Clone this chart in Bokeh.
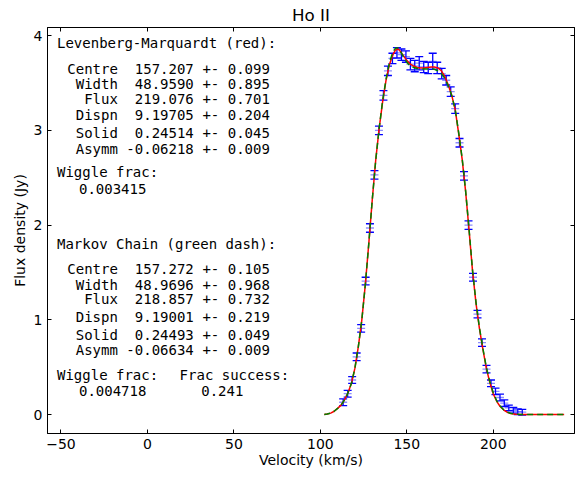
from bokeh.plotting import figure
from bokeh.models import (Range1d, LinearAxis, FixedTicker, Whisker, TeeHead,
                          ColumnDataSource, Label)
from bokeh.embed import file_html
from bokeh.resources import INLINE

# ---- data ----
vel = [113.2, 115.8, 118.4, 121.0, 123.6, 126.2, 128.7, 131.3, 133.9, 136.5,
       139.1, 141.7, 144.3, 146.9, 149.5, 152.1, 154.6, 157.2, 159.8, 162.4,
       165.0, 167.6, 170.2, 172.8, 175.4, 178.0, 180.5, 183.1, 185.7, 188.3,
       190.9, 193.5, 196.1, 198.7, 201.3, 203.9, 206.4, 209.0, 211.6, 214.2, 216.8]
flux = [0.13, 0.22, 0.365, 0.61, 0.91, 1.41, 1.97, 2.53, 3.00, 3.37,
        3.63, 3.76, 3.82, 3.80, 3.78, 3.70, 3.68, 3.71, 3.67, 3.66,
        3.73, 3.66, 3.60, 3.53, 3.41, 3.23, 2.87, 2.52, 2.00, 1.45,
        1.06, 0.76, 0.48, 0.33, 0.245, 0.18, 0.12, 0.07, 0.045, 0.03, 0.025]
err = [0.035, 0.035, 0.035, 0.04, 0.04, 0.04, 0.045, 0.045, 0.045, 0.05,
       0.05, 0.055, 0.055, 0.06, 0.06, 0.06, 0.06, 0.07, 0.06, 0.06,
       0.085, 0.06, 0.055, 0.05, 0.05, 0.05, 0.045, 0.045, 0.045, 0.04,
       0.04, 0.04, 0.04, 0.035, 0.035, 0.035, 0.035, 0.03, 0.03, 0.03, 0.03]

model_vel = [102.3, 104, 106, 108, 110, 112, 114, 116, 118, 120,
             122, 124, 126, 128, 130, 132, 134, 136, 138, 140,
             142, 143.5, 145, 146.5, 148, 150, 152, 154, 156, 158,
             160, 162, 164, 166, 168, 170, 172, 174, 176, 178,
             180, 182, 184, 186, 188, 190, 192, 194, 196, 198,
             200, 202, 204, 206, 208, 210, 213, 216, 220, 241]
lm_model = [0.0, 0.005, 0.015, 0.035, 0.065, 0.10, 0.155, 0.23, 0.33, 0.49,
            0.72, 1.0, 1.37, 1.80, 2.26, 2.68, 3.02, 3.30, 3.53, 3.70,
            3.80, 3.85, 3.86, 3.83, 3.79, 3.74, 3.70, 3.68, 3.665, 3.66,
            3.66, 3.665, 3.67, 3.67, 3.66, 3.63, 3.57, 3.48, 3.37, 3.22,
            2.97, 2.70, 2.36, 1.95, 1.52, 1.18, 0.91, 0.69, 0.49, 0.34,
            0.22, 0.14, 0.085, 0.05, 0.025, 0.012, 0.004, 0.0, 0.0, 0.0]
mc_model = [0.0, 0.005, 0.015, 0.035, 0.065, 0.10, 0.155, 0.23, 0.33, 0.49,
            0.72, 1.0, 1.37, 1.80, 2.26, 2.68, 3.02, 3.31, 3.54, 3.72,
            3.83, 3.87, 3.87, 3.83, 3.78, 3.72, 3.68, 3.665, 3.655, 3.65,
            3.65, 3.65, 3.65, 3.645, 3.63, 3.60, 3.55, 3.47, 3.37, 3.22,
            2.98, 2.71, 2.37, 1.96, 1.53, 1.19, 0.92, 0.70, 0.50, 0.35,
            0.23, 0.145, 0.09, 0.05, 0.027, 0.013, 0.004, 0.0, 0.0, 0.0]

x_ticks = [-50, 0, 50, 100, 150, 200]
y_ticks = [0, 1, 2, 3, 4]

param_names = ["Centre", "Width", "Flux", "Dispn", "Solid", "Asymm"]
lm_vals = ["157.207", "48.9590", "219.076", "9.19705", "0.24514", "-0.06218"]
lm_errs = ["0.099", "0.895", "0.701", "0.204", "0.045", "0.009"]
mc_vals = ["157.272", "48.9696", "218.857", "9.19001", "0.24493", "-0.06634"]
mc_errs = ["0.105", "0.968", "0.732", "0.219", "0.049", "0.009"]
lm_wiggle = "0.003415"
mc_wiggle = "0.004718"
mc_success = "0.241"

# ---- figure ----
upper = [f + e for f, e in zip(flux, err)]
lower = [f - e for f, e in zip(flux, err)]
src = ColumnDataSource(dict(vel=vel, flux=flux, upper=upper, lower=lower))

p = figure(width=584, height=477, output_backend="svg", toolbar_location=None,
           x_range=Range1d(-57.8, 247.0), y_range=Range1d(-0.2, 4.087),
           min_border_left=47, min_border_right=10, min_border_top=26,
           min_border_bottom=44, title="Ho II")
p.grid.visible = False
p.outline_line_color = "black"
p.outline_line_width = 1
p.background_fill_color = "white"
p.border_fill_color = "white"
p.title.align = "center"
p.title.text_font = "DejaVu Sans"
p.title.text_font_size = "16.7px"
p.title.text_font_style = "normal"
p.title.text_color = "black"
p.title.standoff = 5
p.title.offset = 0


def style_axis(ax, ticks, label):
    ax.ticker = FixedTicker(ticks=ticks)
    ax.major_tick_in = 4
    ax.major_tick_out = 0
    ax.major_tick_line_color = "black"
    ax.minor_tick_line_color = None
    ax.axis_line_color = "black"
    ax.major_label_text_font = "DejaVu Sans"
    ax.major_label_text_font_size = "14px"
    ax.major_label_text_color = "black"
    ax.major_label_standoff = 5
    if label:
        ax.axis_label = label
        ax.axis_label_text_font = "DejaVu Sans"
        ax.axis_label_text_font_size = "14px"
        ax.axis_label_text_font_style = "normal"
        ax.axis_label_text_color = "black"
        ax.axis_label_standoff = 3


style_axis(p.xaxis[0], x_ticks, "Velocity (km/s)")
p.xaxis[0].major_label_overrides = {t: (str(t).replace("-", "\u2212")) for t in x_ticks}
p.xaxis[0].axis_label_standoff = 0
style_axis(p.yaxis[0], y_ticks, "Flux density (Jy)")

ax_r = LinearAxis()
style_axis(ax_r, y_ticks, None)
ax_r.major_label_text_font_size = "0px"
ax_r.major_label_overrides = {t: "" for t in y_ticks}
ax_r.major_label_standoff = 0
p.add_layout(ax_r, "right")
ax_t = LinearAxis()
style_axis(ax_t, x_ticks, None)
ax_t.major_label_text_font_size = "0px"
ax_t.major_label_overrides = {t: "" for t in x_ticks}
ax_t.major_label_standoff = 0
p.add_layout(ax_t, "above")

# error bars
wh = Whisker(source=src, base="vel", upper="upper", lower="lower",
             dimension="height", line_color="blue", line_width=1.3,
             upper_head=TeeHead(size=8, line_color="blue", line_width=1.3),
             lower_head=TeeHead(size=8, line_color="blue", line_width=1.3))
p.add_layout(wh)
p.scatter("vel", "flux", source=src, marker="dash", size=8,
          line_color="blue", line_alpha=0.45, line_width=1.3)

# model curves
p.line(model_vel, lm_model, line_color="red", line_width=1.5)
p.line(model_vel, mc_model, line_color="green", line_width=1.5, line_dash="6 4")

# text blocks
FONT = "DejaVu Sans Mono"
FS = "14px"
DY = 0.06


def add_text(x, y, text, align="left"):
    p.add_layout(Label(x=x, y=y + DY, text=text, text_font=FONT, text_font_size=FS,
                       text_align=align, text_baseline="alphabetic",
                       text_color="black"))


x_head = -52.3
x_name = -17.1
x_val = 26.8
x_pm = 31.8
x_wig = -39.6
x_succ = 18.6
x_succv = 31.1

add_text(x_head, 3.866, "Levenberg-Marquardt (red):")
rows1 = [3.586, 3.428, 3.277, 3.102, 2.913, 2.744]
for yy, n, v, e in zip(rows1, param_names, lm_vals, lm_errs):
    add_text(x_name, yy, n, "right")
    add_text(x_val, yy, v, "right")
    add_text(x_pm, yy, "+- " + e)
add_text(x_head, 2.498, "Wiggle frac:")
add_text(x_wig, 2.323, lm_wiggle)

add_text(x_head, 1.744, "Markov Chain (green dash):")
rows2 = [1.474, 1.305, 1.155, 0.965, 0.779, 0.621]
for yy, n, v, e in zip(rows2, param_names, mc_vals, mc_errs):
    add_text(x_name, yy, n, "right")
    add_text(x_val, yy, v, "right")
    add_text(x_pm, yy, "+- " + e)
add_text(x_head, 0.358, "Wiggle frac:")
add_text(x_succ, 0.358, "Frac success:")
add_text(x_wig, 0.189, mc_wiggle)
add_text(x_succv, 0.189, mc_success)

open("out.html", "w").write(file_html(p, INLINE))
